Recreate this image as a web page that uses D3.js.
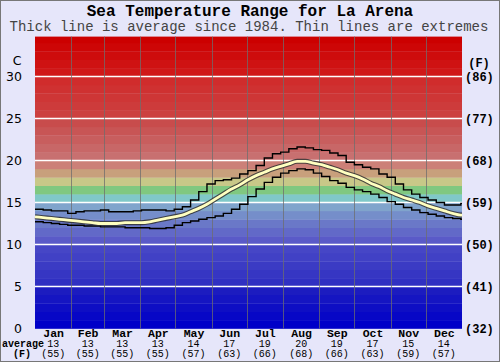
<!DOCTYPE html>
<html>
<head>
<meta charset="utf-8">
<script src="https://cdn.jsdelivr.net/npm/d3@7"></script>
<style>
  body { margin: 0; background: #e6e6fa; }
  svg { display: block; }
</style>
</head>
<body>
<div id="chart"></div>
<script>
// data
var months = ["Jan","Feb","Mar","Apr","May","Jun","Jul","Aug","Sep","Oct","Nov","Dec"];
var monthDays = [31,28,31,30,31,30,31,31,30,31,30,31];
var avgC = [13,13,13,13,14,17,19,20,19,17,15,14];
var avgF = [55,55,55,55,57,63,66,68,66,63,59,57];
var yTicks = [0,5,10,15,20,25,30];

// weekly values (one every 7 days, from 1 Jan)
var avgLine = [13.3,13.2,13.1,13.0,12.9,12.8,12.7,12.6,12.5,12.5,12.5,12.6,12.6,12.6,
  12.7,12.9,13.1,13.3,13.5,13.9,14.3,14.8,15.4,16.0,16.6,17.1,17.7,18.2,18.6,19.0,
  19.3,19.6,19.9,19.9,19.7,19.5,19.2,18.9,18.5,18.2,17.8,17.3,16.9,16.4,16.0,15.6,
  15.3,15.0,14.6,14.3,14.0,13.7,13.5];
var maxLine = [14.2,14.1,14.0,14.0,13.7,13.9,14.0,14.0,14.1,13.9,13.9,13.9,14.0,14.1,
  14.1,14.1,14.0,14.2,14.5,15.3,16.3,17.2,17.6,17.7,17.9,18.4,18.8,19.4,20.3,20.8,
  21.0,21.4,21.6,21.5,21.3,21.2,20.9,20.6,19.8,19.5,19.2,19.0,18.4,18.0,17.2,16.5,
  16.0,15.6,15.3,15.0,14.7,14.7,14.9];
var minLine = [12.7,12.6,12.5,12.4,12.3,12.3,12.2,12.2,12.1,12.1,12.1,12.0,12.0,12.0,
  11.9,11.9,12.0,12.3,12.6,12.8,13.0,13.2,13.4,13.7,14.2,14.8,15.7,16.6,17.4,18.0,
  18.5,18.8,19.0,18.9,18.5,18.1,17.6,17.3,16.8,16.5,16.3,16.0,15.6,15.1,14.8,14.4,
  14.1,13.8,13.6,13.4,13.2,13.1,13.0];

var W = 500, H = 362;
var pLeft = 35, pRight = 462, pTop = 36.6, pBottom = 328.5;

var svg = d3.select("#chart").append("svg").attr("width", W).attr("height", H);

svg.append("rect").attr("x", 0.5).attr("y", 0.5).attr("width", W - 1).attr("height", H - 1)
  .attr("fill", "#e6e6fa").attr("stroke", "#777");

var x = d3.scaleLinear().domain([0, 365]).range([pLeft, pRight]);
var y = d3.scaleLinear().domain([0, 35]).range([pBottom, pBottom - 35 * 8.4]);

// colour of each 1C band
var bandColor = d3.scaleLinear()
  .domain([0.5, 4.5, 5.5, 9.5, 10.5, 12.5, 14.5, 15.5, 16.5, 17.5, 18.5, 19.5, 20.5, 24.5, 25.5, 29.5, 30.5, 34.5])
  .range(["#0000c8","#1c1cc0","#3030c2","#4646c6","#5a5ac8","#6a78c8","#80a4cc","#80c8c8","#80c880",
          "#c8c888","#c8a07c","#cc8078","#c87070","#c84c4c","#cc4040","#d02c2c","#d01818","#cc0000"]);

var bands = d3.range(0, 35);
svg.append("g").selectAll("rect").data(bands).enter().append("rect")
  .attr("x", pLeft)
  .attr("width", pRight - pLeft)
  .attr("y", function(d){ return Math.max(pTop, y(d + 1)); })
  .attr("height", function(d){ return y(d) - Math.max(pTop, y(d + 1)) + 0.3; })
  .attr("fill", function(d){ return bandColor(d + 0.5); });

// white lines every 5C
svg.append("g").selectAll("line").data(yTicks.filter(function(d){ return d > 0; })).enter().append("line")
  .attr("x1", pLeft).attr("x2", pRight)
  .attr("y1", function(d){ return y(d); }).attr("y2", function(d){ return y(d); })
  .attr("stroke", "#fff").attr("stroke-width", 1.5);

// month borders
var monthStart = d3.cumsum([0].concat(monthDays));
svg.append("g").selectAll("line").data(monthStart.slice(1, 12)).enter().append("line")
  .attr("x1", function(d){ return Math.round(x(d)) + 0.5; })
  .attr("x2", function(d){ return Math.round(x(d)) + 0.5; })
  .attr("y1", pTop).attr("y2", pBottom)
  .attr("stroke", "#6e6e6e").attr("stroke-opacity", 0.75);

function pts(arr){
  var p = arr.map(function(v, i){ return [i * 7, v]; });
  p.push([365, arr[arr.length - 1]]);
  return p;
}

var stepLine = d3.line()
  .x(function(d){ return x(d[0]); })
  .y(function(d){ return y(d[1]); })
  .curve(d3.curveStepAfter);
var smoothLine = d3.line()
  .x(function(d){ return x(d[0]); })
  .y(function(d){ return y(d[1]); })
  .curve(d3.curveMonotoneX);

[maxLine, minLine].forEach(function(arr){
  svg.append("path").attr("d", stepLine(pts(arr)))
    .attr("fill", "none").attr("stroke", "#000").attr("stroke-width", 1.4);
});

svg.append("path").attr("d", smoothLine(pts(avgLine)))
  .attr("fill", "none").attr("stroke", "#333").attr("stroke-opacity", 0.85).attr("stroke-width", 5);
svg.append("path").attr("d", smoothLine(pts(avgLine)))
  .attr("fill", "none").attr("stroke", "#ffffc0").attr("stroke-width", 2.8);

// titles
svg.append("text").attr("x", 250).attr("y", 15.5).attr("text-anchor", "middle")
  .style("font", "bold 16px 'Liberation Mono', monospace").text("Sea Temperature Range for La Arena");
svg.append("text").attr("x", 249).attr("y", 31).attr("text-anchor", "middle")
  .style("font", "14px 'Liberation Mono', monospace").attr("fill", "#444")
  .text("Thick line is average since 1984. Thin lines are extremes");

// left axis (C)
var yAxisL = svg.append("g").attr("transform", "translate(" + pLeft + ",0)")
  .call(d3.axisLeft(y).tickValues(yTicks).tickSize(0).tickPadding(13));
yAxisL.select(".domain").remove();
yAxisL.selectAll("text").style("font", "12.5px 'DejaVu Sans', sans-serif").attr("fill", "#000");
svg.append("text").attr("x", 17).attr("y", 65).attr("text-anchor", "middle")
  .style("font", "12.5px 'DejaVu Sans', sans-serif").text("C");

// right axis (F)
var yAxisR = svg.append("g").attr("transform", "translate(" + pRight + ",0)")
  .call(d3.axisRight(y).tickValues(yTicks).tickSize(0).tickPadding(3)
    .tickFormat(function(d){ return "(" + Math.round(d * 9 / 5 + 32) + ")"; }));
yAxisR.select(".domain").remove();
yAxisR.selectAll("text").style("font", "bold 12px 'Liberation Mono', monospace").attr("fill", "#000");
svg.append("text").attr("x", 479).attr("y", 67).attr("text-anchor", "middle")
  .style("font", "bold 12px 'Liberation Mono', monospace").text("(F)");

// bottom axis: months with averages
var monthMid = monthStart.slice(0, 12).map(function(d, i){ return d + monthDays[i] / 2; });
var xAxis = svg.append("g").attr("transform", "translate(0," + pBottom + ")")
  .call(d3.axisBottom(x).tickValues(monthMid).tickSize(0).tickPadding(0)
    .tickFormat(function(d, i){ return months[i]; }));
xAxis.select(".domain").remove();
xAxis.selectAll("text").attr("dy", null).attr("y", 8.5)
  .style("font", "bold 11.5px 'Liberation Mono', monospace").attr("fill", "#000");

svg.append("g").selectAll("text").data(avgC).enter().append("text")
  .attr("x", function(d, i){ return x(monthMid[i]); }).attr("y", 347)
  .attr("text-anchor", "middle").style("font", "10px 'Liberation Mono', monospace").text(function(d){ return d; });
svg.append("g").selectAll("text").data(avgF).enter().append("text")
  .attr("x", function(d, i){ return x(monthMid[i]); }).attr("y", 357)
  .attr("text-anchor", "middle").style("font", "10px 'Liberation Mono', monospace").text(function(d){ return "(" + d + ")"; });

svg.append("text").attr("x", 2).attr("y", 347)
  .style("font", "bold 10px 'Liberation Mono', monospace").text("average");
svg.append("text").attr("x", 22).attr("y", 357).attr("text-anchor", "middle")
  .style("font", "bold 10px 'Liberation Mono', monospace").text("(F)");
</script>
</body>
</html>
